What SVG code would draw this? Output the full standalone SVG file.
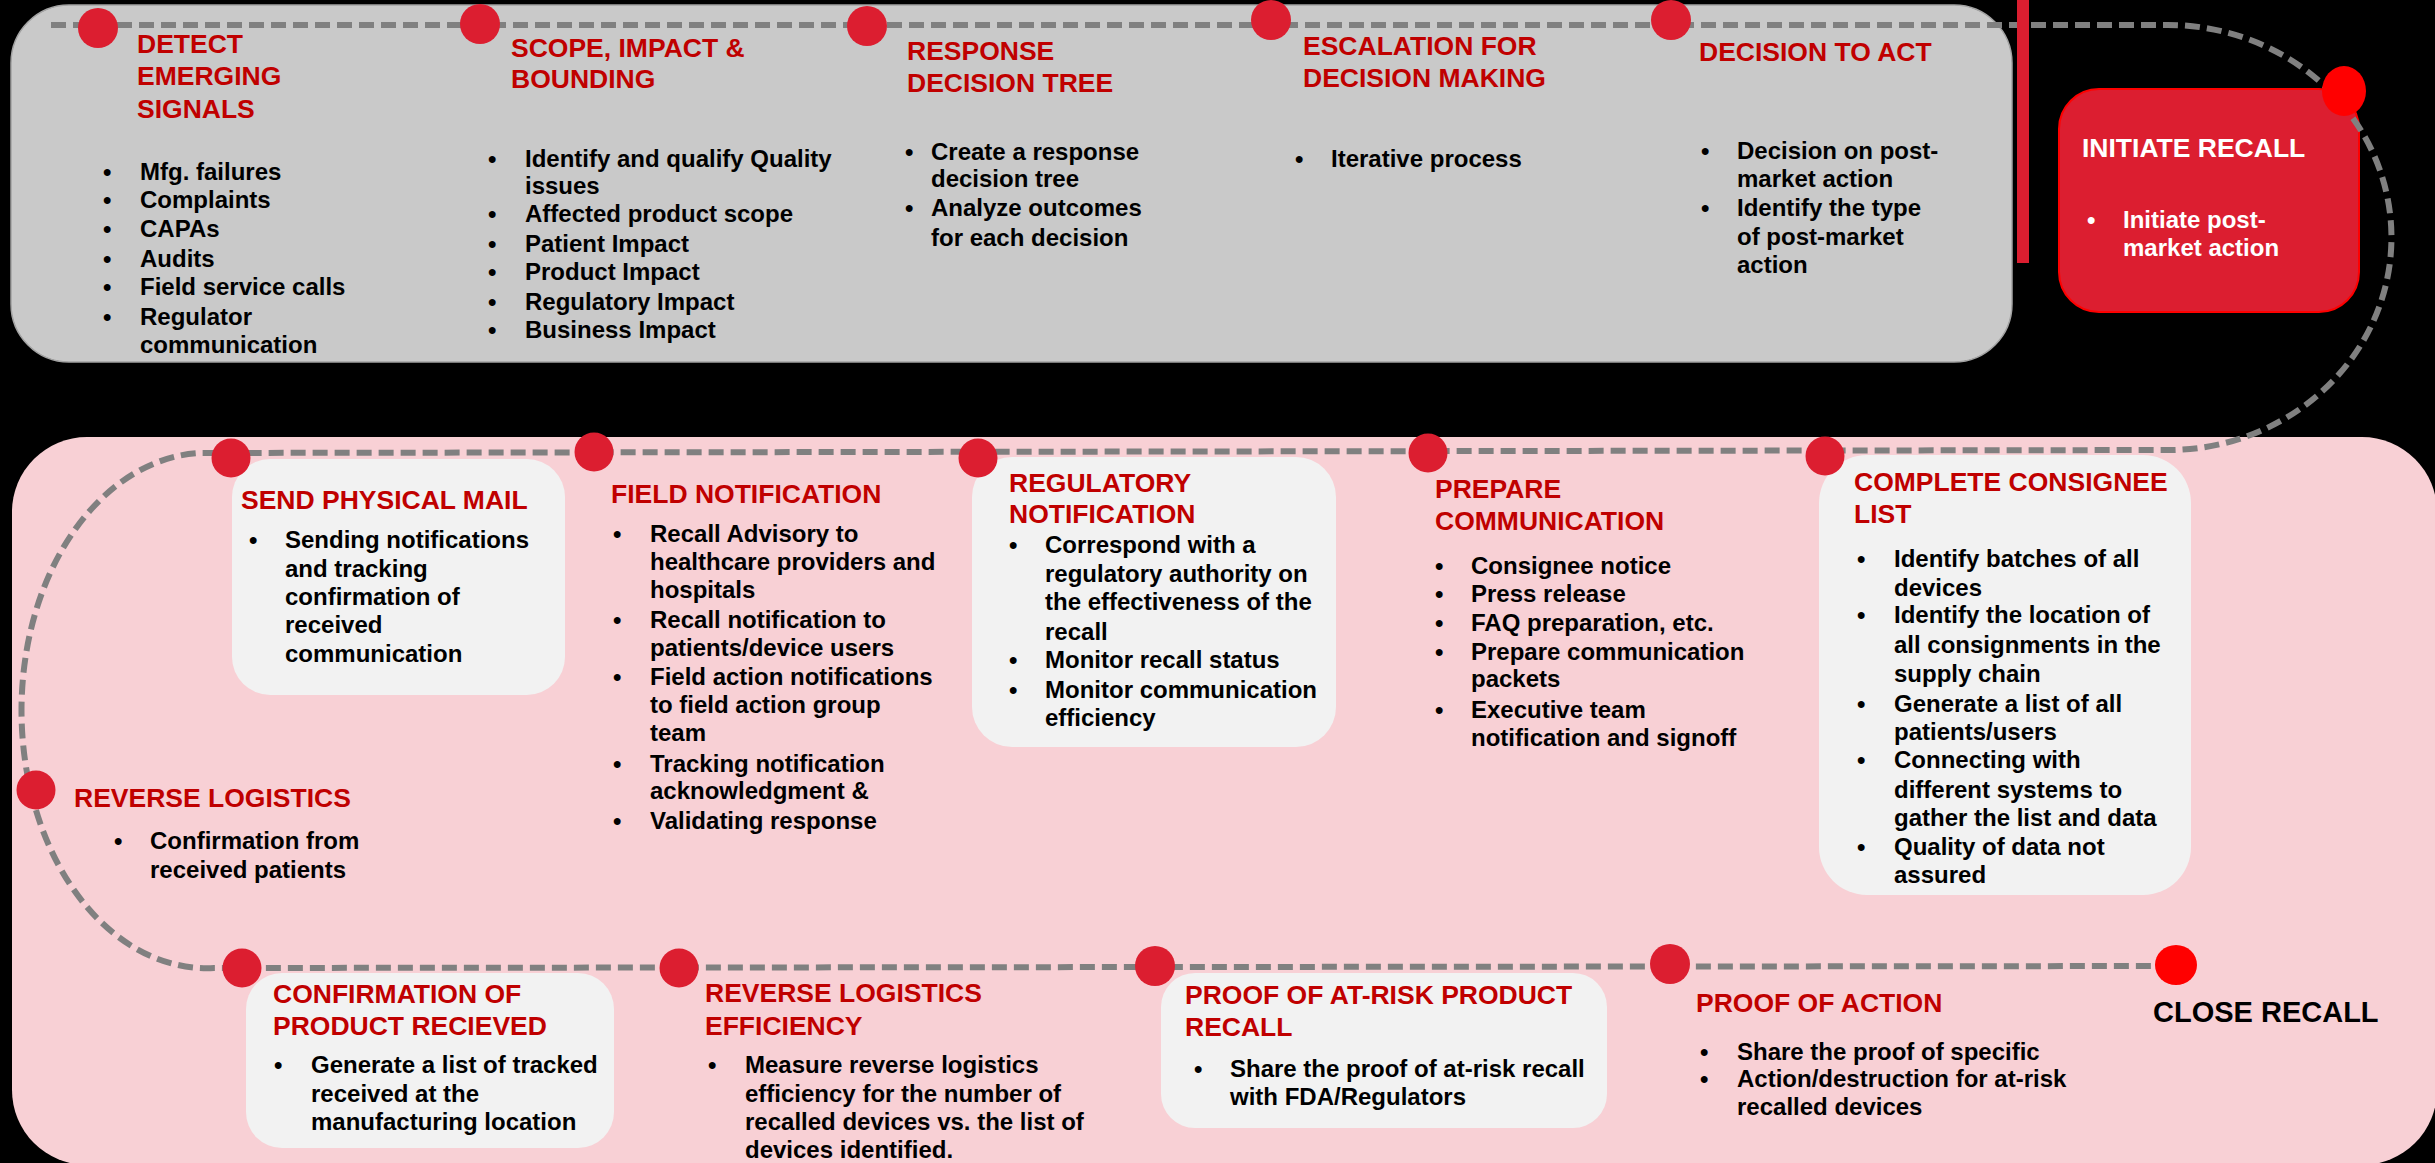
<svg xmlns="http://www.w3.org/2000/svg" width="2435" height="1163" viewBox="0 0 2435 1163">
<style>
.h{font-family:"Liberation Sans",Arial,sans-serif;font-weight:bold;font-size:26.5px;fill:#C00000}
.t{font-family:"Liberation Sans",Arial,sans-serif;font-weight:bold;font-size:24px;fill:#000}
.w{fill:#fff}
.dot{fill:#DC1E30}
.dotr{fill:#FF0000}
.box{fill:#F2F2F2}
.conn{fill:none;stroke:#808080;stroke-width:6;stroke-dasharray:15 7}
</style>
<rect x="0" y="0" width="2435" height="1163" fill="#000"/>
<rect x="11" y="5" width="2001" height="357" rx="58" ry="58" fill="#C9C9C9" stroke="#A3A3A3" stroke-width="1.5"/>
<rect x="12" y="437" width="2425" height="728" rx="75" ry="75" fill="#F8D0D5"/>

<g id="node-send-mail-box"><rect class="box" x="232" y="459" width="333" height="236" rx="38"/></g>
<g id="node-regulatory-box"><rect class="box" x="972" y="457" width="364" height="290" rx="40"/></g>
<g id="node-consignee-box"><rect class="box" x="1819" y="455" width="372" height="440" rx="48"/></g>
<g id="node-confirmation-box"><rect class="box" x="246" y="973" width="368" height="175" rx="36"/></g>
<g id="node-proof-risk-box"><rect class="box" x="1161" y="973" width="446" height="155" rx="34"/></g>
<g id="node-initiate-box"><rect x="2059" y="89" width="300" height="223" rx="40" fill="#DC1E30" stroke="#FF0000" stroke-width="2"/></g>

<g id="connectors">
<path class="conn" d="M51 25 L2164 25 A223 212 0 0 1 2172 450 L200 453 A185 257 0 0 0 214 968 L2176 966"/>
</g>
<rect x="2017" y="0" width="12" height="263" fill="#DC1E30"/>

<g id="node-detect">
<circle class="dot" cx="98" cy="28" r="20"/>
<text class="h"><tspan x="137" y="53">DETECT</tspan><tspan x="137" y="85">EMERGING</tspan><tspan x="137" y="118">SIGNALS</tspan></text>
<text class="t"><tspan x="103" y="180">•</tspan><tspan x="140" y="180">Mfg. failures</tspan><tspan x="103" y="208">•</tspan><tspan x="140" y="208">Complaints</tspan><tspan x="103" y="237">•</tspan><tspan x="140" y="237">CAPAs</tspan><tspan x="103" y="267">•</tspan><tspan x="140" y="267">Audits</tspan><tspan x="103" y="295">•</tspan><tspan x="140" y="295">Field service calls</tspan><tspan x="103" y="325">•</tspan><tspan x="140" y="325">Regulator</tspan><tspan x="140" y="353">communication</tspan></text>
</g>

<g id="node-scope">
<circle class="dot" cx="480" cy="24" r="20"/>
<text class="h"><tspan x="511" y="57">SCOPE, IMPACT &amp;</tspan><tspan x="511" y="88">BOUNDING</tspan></text>
<text class="t"><tspan x="488" y="167">•</tspan><tspan x="525" y="167">Identify and qualify Quality</tspan><tspan x="525" y="194">issues</tspan><tspan x="488" y="222">•</tspan><tspan x="525" y="222">Affected product scope</tspan><tspan x="488" y="252">•</tspan><tspan x="525" y="252">Patient Impact</tspan><tspan x="488" y="280">•</tspan><tspan x="525" y="280">Product Impact</tspan><tspan x="488" y="310">•</tspan><tspan x="525" y="310">Regulatory Impact</tspan><tspan x="488" y="338">•</tspan><tspan x="525" y="338">Business Impact</tspan></text>
</g>

<g id="node-response">
<circle class="dot" cx="867" cy="26" r="20"/>
<text class="h"><tspan x="907" y="60">RESPONSE</tspan><tspan x="907" y="92">DECISION TREE</tspan></text>
<text class="t"><tspan x="905" y="160">•</tspan><tspan x="931" y="160">Create a response</tspan><tspan x="931" y="187">decision tree</tspan><tspan x="905" y="216">•</tspan><tspan x="931" y="216">Analyze outcomes</tspan><tspan x="931" y="246">for each decision</tspan></text>
</g>

<g id="node-escalation">
<circle class="dot" cx="1271" cy="20" r="20"/>
<text class="h"><tspan x="1303" y="55">ESCALATION FOR</tspan><tspan x="1303" y="87">DECISION MAKING</tspan></text>
<text class="t"><tspan x="1295" y="167">•</tspan><tspan x="1331" y="167">Iterative process</tspan></text>
</g>

<g id="node-decision">
<circle class="dot" cx="1671" cy="20" r="20"/>
<text class="h"><tspan x="1699" y="61">DECISION TO ACT</tspan></text>
<text class="t"><tspan x="1701" y="159">•</tspan><tspan x="1737" y="159">Decision on post-</tspan><tspan x="1737" y="187">market action</tspan><tspan x="1701" y="216">•</tspan><tspan x="1737" y="216">Identify the type</tspan><tspan x="1737" y="245">of post-market</tspan><tspan x="1737" y="273">action</tspan></text>
</g>

<g id="node-initiate">
<ellipse class="dotr" cx="2344" cy="91" rx="22" ry="25"/>
<text class="h w"><tspan x="2082" y="157">INITIATE RECALL</tspan></text>
<text class="t w"><tspan x="2087" y="228">•</tspan><tspan x="2123" y="228">Initiate post-</tspan><tspan x="2123" y="256">market action</tspan></text>
</g>

<g id="node-send-mail">
<circle class="dot" cx="231" cy="458" r="19.5"/>
<text class="h"><tspan x="241" y="509">SEND PHYSICAL MAIL</tspan></text>
<text class="t"><tspan x="249" y="548">•</tspan><tspan x="285" y="548">Sending notifications</tspan><tspan x="285" y="577">and tracking</tspan><tspan x="285" y="605">confirmation of</tspan><tspan x="285" y="633">received</tspan><tspan x="285" y="662">communication</tspan></text>
</g>

<g id="node-field">
<circle class="dot" cx="594" cy="452" r="19.5"/>
<text class="h"><tspan x="611" y="503">FIELD NOTIFICATION</tspan></text>
<text class="t"><tspan x="613" y="542">•</tspan><tspan x="650" y="542">Recall Advisory to</tspan><tspan x="650" y="570">healthcare providers and</tspan><tspan x="650" y="598">hospitals</tspan><tspan x="613" y="628">•</tspan><tspan x="650" y="628">Recall notification to</tspan><tspan x="650" y="656">patients/device users</tspan><tspan x="613" y="685">•</tspan><tspan x="650" y="685">Field action notifications</tspan><tspan x="650" y="713">to field action group</tspan><tspan x="650" y="741">team</tspan><tspan x="613" y="772">•</tspan><tspan x="650" y="772">Tracking notification</tspan><tspan x="650" y="799">acknowledgment &amp;</tspan><tspan x="613" y="829">•</tspan><tspan x="650" y="829">Validating response</tspan></text>
</g>

<g id="node-regulatory">
<circle class="dot" cx="978" cy="458" r="19.5"/>
<text class="h"><tspan x="1009" y="492">REGULATORY</tspan><tspan x="1009" y="523">NOTIFICATION</tspan></text>
<text class="t"><tspan x="1009" y="553">•</tspan><tspan x="1045" y="553">Correspond with a</tspan><tspan x="1045" y="582">regulatory authority on</tspan><tspan x="1045" y="610">the effectiveness of the</tspan><tspan x="1045" y="640">recall</tspan><tspan x="1009" y="668">•</tspan><tspan x="1045" y="668">Monitor recall status</tspan><tspan x="1009" y="698">•</tspan><tspan x="1045" y="698">Monitor communication</tspan><tspan x="1045" y="726">efficiency</tspan></text>
</g>

<g id="node-prepare">
<circle class="dot" cx="1428" cy="453" r="19.5"/>
<text class="h"><tspan x="1435" y="498">PREPARE</tspan><tspan x="1435" y="530">COMMUNICATION</tspan></text>
<text class="t"><tspan x="1435" y="574">•</tspan><tspan x="1471" y="574">Consignee notice</tspan><tspan x="1435" y="602">•</tspan><tspan x="1471" y="602">Press release</tspan><tspan x="1435" y="631">•</tspan><tspan x="1471" y="631">FAQ preparation, etc.</tspan><tspan x="1435" y="660">•</tspan><tspan x="1471" y="660">Prepare communication</tspan><tspan x="1471" y="687">packets</tspan><tspan x="1435" y="718">•</tspan><tspan x="1471" y="718">Executive team</tspan><tspan x="1471" y="746">notification and signoff</tspan></text>
</g>

<g id="node-consignee">
<circle class="dot" cx="1825" cy="456" r="19.5"/>
<text class="h"><tspan x="1854" y="491">COMPLETE CONSIGNEE</tspan><tspan x="1854" y="523">LIST</tspan></text>
<text class="t"><tspan x="1857" y="567">•</tspan><tspan x="1894" y="567">Identify batches of all</tspan><tspan x="1894" y="596">devices</tspan><tspan x="1857" y="623">•</tspan><tspan x="1894" y="623">Identify the location of</tspan><tspan x="1894" y="653">all consignments in the</tspan><tspan x="1894" y="682">supply chain</tspan><tspan x="1857" y="712">•</tspan><tspan x="1894" y="712">Generate a list of all</tspan><tspan x="1894" y="740">patients/users</tspan><tspan x="1857" y="768">•</tspan><tspan x="1894" y="768">Connecting with</tspan><tspan x="1894" y="798">different systems to</tspan><tspan x="1894" y="826">gather the list and data</tspan><tspan x="1857" y="855">•</tspan><tspan x="1894" y="855">Quality of data not</tspan><tspan x="1894" y="883">assured</tspan></text>
</g>

<g id="node-reverse">
<circle class="dot" cx="36" cy="790" r="19.5"/>
<text class="h"><tspan x="74" y="807">REVERSE LOGISTICS</tspan></text>
<text class="t"><tspan x="114" y="849">•</tspan><tspan x="150" y="849">Confirmation from</tspan><tspan x="150" y="878">received patients</tspan></text>
</g>

<g id="node-confirmation">
<circle class="dot" cx="242" cy="968" r="19.5"/>
<text class="h"><tspan x="273" y="1003">CONFIRMATION OF</tspan><tspan x="273" y="1035">PRODUCT RECIEVED</tspan></text>
<text class="t"><tspan x="274" y="1073">•</tspan><tspan x="311" y="1073">Generate a list of tracked</tspan><tspan x="311" y="1102">received at the</tspan><tspan x="311" y="1130">manufacturing location</tspan></text>
</g>

<g id="node-efficiency">
<circle class="dot" cx="679" cy="968" r="19.5"/>
<text class="h"><tspan x="705" y="1002">REVERSE LOGISTICS</tspan><tspan x="705" y="1035">EFFICIENCY</tspan></text>
<text class="t"><tspan x="708" y="1073">•</tspan><tspan x="745" y="1073">Measure reverse logistics</tspan><tspan x="745" y="1102">efficiency for the number of</tspan><tspan x="745" y="1130">recalled devices vs. the list of</tspan><tspan x="745" y="1158">devices identified.</tspan></text>
</g>

<g id="node-proof-risk">
<circle class="dot" cx="1155" cy="966" r="20"/>
<text class="h"><tspan x="1185" y="1004">PROOF OF AT-RISK PRODUCT</tspan><tspan x="1185" y="1036">RECALL</tspan></text>
<text class="t"><tspan x="1194" y="1077">•</tspan><tspan x="1230" y="1077">Share the proof of at-risk recall</tspan><tspan x="1230" y="1105">with FDA/Regulators</tspan></text>
</g>

<g id="node-proof-action">
<circle class="dot" cx="1670" cy="964" r="20"/>
<text class="h"><tspan x="1696" y="1012">PROOF OF ACTION</tspan></text>
<text class="t"><tspan x="1700" y="1060">•</tspan><tspan x="1737" y="1060">Share the proof of specific</tspan><tspan x="1700" y="1087">•</tspan><tspan x="1737" y="1087">Action/destruction for at-risk</tspan><tspan x="1737" y="1115">recalled devices</tspan></text>
</g>

<g id="node-close">
<ellipse class="dotr" cx="2176" cy="965" rx="21" ry="20"/>
<text class="t" style="font-size:29px"><tspan x="2153" y="1022">CLOSE RECALL</tspan></text>
</g>
</svg>
